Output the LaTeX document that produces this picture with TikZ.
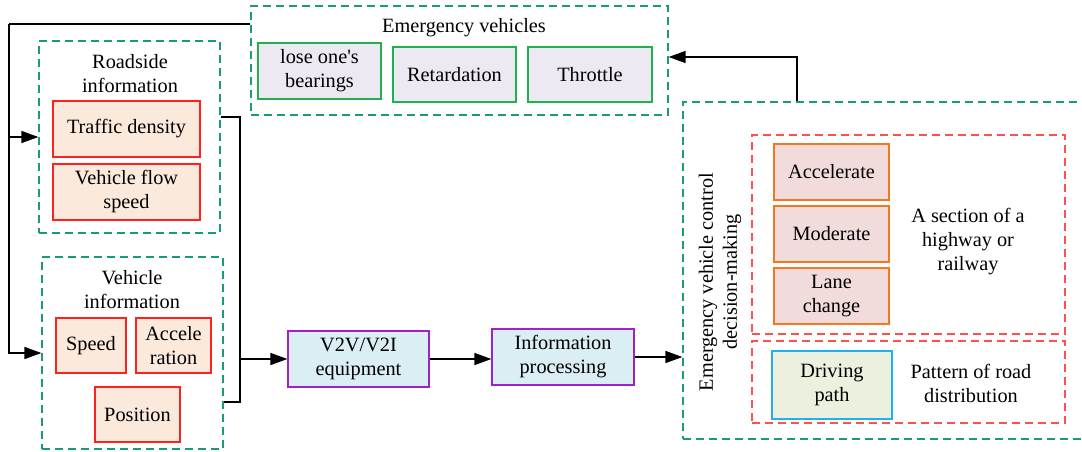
\documentclass[tikz,border=0pt]{standalone}
\usepackage{fontspec}
\setmainfont{Liberation Serif}
\usetikzlibrary{arrows.meta,calc}
\definecolor{teal1}{HTML}{1A9A7A}
\definecolor{redS}{HTML}{FF2020}
\definecolor{redF}{HTML}{FBE9DC}
\definecolor{grnS}{HTML}{20B050}
\definecolor{grnF}{HTML}{ECE9F2}
\definecolor{purS}{HTML}{A020D0}
\definecolor{purF}{HTML}{DBEEF3}
\definecolor{orS}{HTML}{F07820}
\definecolor{orF}{HTML}{F2DCDB}
\definecolor{cyS}{HTML}{20B0F0}
\definecolor{cyF}{HTML}{EBF1DE}
\definecolor{redD}{HTML}{FF5050}
\begin{document}
\begin{tikzpicture}[x=1pt,y=-1pt,
  every node/.style={font=\fontsize{20.3}{24}\selectfont, align=center, inner sep=0pt},
  grp/.style={draw=teal1, line width=1.2pt, dash pattern=on 8pt off 5pt},
  sect/.style={draw=redD, line width=1.2pt, dash pattern=on 8pt off 5pt},
  itemR/.style={draw=redS, fill=redF, line width=1.2pt},
  itemG/.style={draw=grnS, fill=grnF, line width=1.2pt},
  itemP/.style={draw=purS, fill=purF, line width=1.2pt},
  itemO/.style={draw=orS, fill=orF, line width=1.2pt},
  itemC/.style={draw=cyS, fill=cyF, line width=1.2pt},
  conn/.style={draw=black, line width=1.4pt},
  arr/.style={conn, -{Triangle[length=17pt,width=12pt]}}
]
\useasboundingbox (0,0) rectangle (1082,451);
% roadside group
\node[grp, minimum width=181, minimum height=192] (rs) at (129.5,137) {};
\node (rst) at (130,74) {Roadside\\information};
\node[itemR, minimum width=147, minimum height=56] (td) at (126.5,129) {Traffic density};
\node[itemR, minimum width=147, minimum height=56] (vfs) at (126.5,192) {Vehicle flow\\speed};
% vehicle group
\node[grp, minimum width=181, minimum height=192] (vi) at (132.5,353) {};
\node (vit) at (132,290) {Vehicle\\information};
\node[itemR, minimum width=70, minimum height=55] (spd) at (91,345.5) {Speed};
\node[itemR, minimum width=75, minimum height=55] (acl) at (173.5,345.5) {Accele\\ration};
\node[itemR, minimum width=85, minimum height=55] (pos) at (137.5,414.5) {Position};
% middle
\node[itemP, minimum width=141, minimum height=56] (v2v) at (358.5,359) {V2V/V2I\\equipment};
\node[itemP, minimum width=142, minimum height=56] (ip) at (563,357) {Information\\processing};
% emergency vehicles
\node[grp, minimum width=417, minimum height=109] (ev) at (459.5,60.5) {};
\node (evt) at (464,28) {Emergency vehicles};
\node[itemG, minimum width=123, minimum height=56] (lob) at (319.5,71) {lose one\textquotesingle s\\bearings};
\node[itemG, minimum width=123, minimum height=55] (ret) at (454.5,74.5) {Retardation};
\node[itemG, minimum width=124, minimum height=55] (thr) at (590,74.5) {Throttle};
% control
\node[grp, minimum width=412, minimum height=337] (ctrl) at (889,270.5) {};
\node[rotate=90] (ctt) at (720,282) {Emergency vehicle control\\decision-making};
\node[sect, minimum width=313, minimum height=199] (s1) at (908.5,234.5) {};
\node[sect, minimum width=313, minimum height=82] (s2) at (908.5,382) {};
\node[itemO, minimum width=115, minimum height=56] (acc) at (831.5,172) {Accelerate};
\node[itemO, minimum width=115, minimum height=56] (mod) at (831.5,234) {Moderate};
\node[itemO, minimum width=115, minimum height=56] (lan) at (831.5,296) {Lane\\change};
\node[itemC, minimum width=120, minimum height=68] (dp) at (832,385) {Driving\\path};
\node (st) at (968,242) {A section of a\\highway or\\railway};
\node (pt) at (971,383) {Pattern of road\\distribution};
% connectors
\coordinate (fbs) at (ev.west |- 0,24);
\coordinate (fbx) at (9,24);
\draw[conn] (fbs) -- (fbx);
\draw[arr] (fbx) |- (vi.west);
\draw[arr] (fbx |- rs.west) -- (rs.west);
\coordinate (bt) at (240,117);
\coordinate (bb) at (240,402);
\draw[conn] ([yshift=20pt]rs.east) -- (bt) -- (bb) -- (vi.east |- bb);
\draw[arr] (bt |- v2v.west) -- (v2v.west);
\draw[arr] (v2v.east) -- (v2v.east -| ip.west);
\draw[arr] (ip.east) -- (ip.east -| ctrl.west);
\coordinate (ct) at (797,0);
\draw[arr] (ct |- ctrl.north) |- ([yshift=3.5pt]ev.east);
\end{tikzpicture}
\end{document}
